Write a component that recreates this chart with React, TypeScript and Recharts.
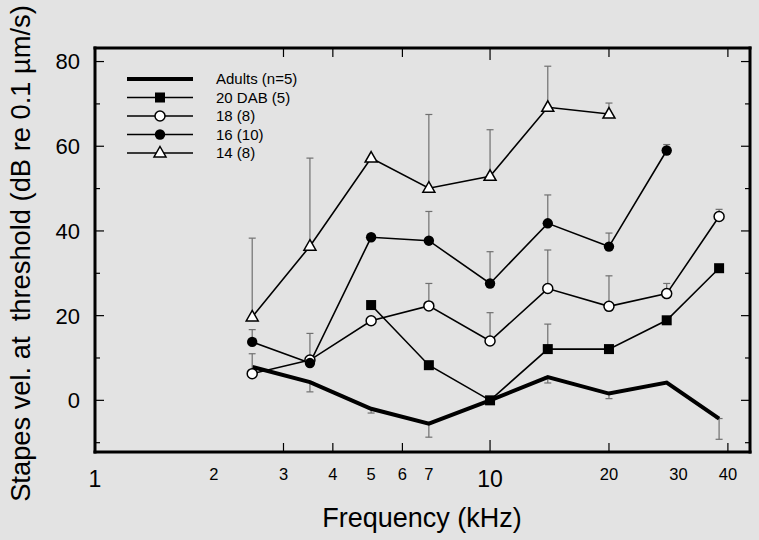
import { ComposedChart, Line, XAxis, YAxis, ErrorBar, Legend } from 'recharts';

// frequencies in kHz
const freqs = [2.5, 3.5, 5, 7, 10, 14, 20, 28, 38];

// mean thresholds (dB re 0.1 um/s)
const adults = [7.9, 4.3, -2.0, -5.5, 0, 5.5, 1.6, 4.2, -4.3];
const dab20 = [null, null, 22.5, 8.3, 0, 12.1, 12.1, 18.9, 31.2];
const dab18 = [6.3, 9.5, 18.8, 22.3, 14.0, 26.4, 22.2, 25.2, 43.4];
const dab16 = [13.8, 8.8, 38.5, 37.7, 27.6, 41.8, 36.3, 59.0, null];
const dab14 = [19.7, 36.4, 57.2, 50.1, 52.9, 69.2, 67.6, null, null];

// error bar ends (adults: lower end, others: upper end)
const adultsLow = [null, 2.0, -3.0, -8.7, null, 4.1, 0.4, null, -9.2];
const dab20High = [null, null, null, null, null, 18.0, null, null, null];
const dab18High = [11.0, 15.8, null, 27.6, 20.7, 35.5, 29.4, 27.6, 45.1];
const dab16High = [16.7, null, null, 44.6, 35.1, 48.5, 39.5, 60.4, null];
const dab14High = [38.3, 57.2, null, 67.5, 63.9, 78.9, 70.2, null, null];

const xTicks = [1, 2, 3, 4, 5, 6, 7, 10, 20, 30, 40];
const xTickMarks = [3, 4, 6, 10, 20, 40];
const yTicks = [-10, 0, 10, 20, 30, 40, 50, 60, 70, 80];
const yLabels = [0, 20, 40, 60, 80];

const legendNames = ['Adults (n=5)', '20 DAB (5)', '18 (8)', '16 (10)', '14 (8)'];
const legendShapes = ['none', 'square', 'open', 'filled', 'triangle'];

const FONT = '"Liberation Sans", Arial, sans-serif';

const up = (v: number | null, hi: number | null) =>
  v == null || hi == null ? null : [0, +(hi - v).toFixed(2)];
const down = (v: number | null, lo: number | null) =>
  v == null || lo == null ? null : [+(v - lo).toFixed(2), 0];

const rows = freqs.map((f, i) => ({
  f,
  adults: adults[i],
  adultsErr: down(adults[i], adultsLow[i]),
  dab20: dab20[i],
  dab20Err: up(dab20[i], dab20High[i]),
  dab18: dab18[i],
  dab18Err: up(dab18[i], dab18High[i]),
  dab16: dab16[i],
  dab16Err: up(dab16[i], dab16High[i]),
  dab14: dab14[i],
  dab14Err: up(dab14[i], dab14High[i]),
}));

function marker(kind: string, cx: number, cy: number, key?: string | number) {
  switch (kind) {
    case 'square':
      return <rect key={key} x={cx - 5} y={cy - 5} width={10} height={10} fill="#000" />;
    case 'open':
      return <circle key={key} cx={cx} cy={cy} r={5} fill="#fff" stroke="#000" strokeWidth={1.5} />;
    case 'filled':
      return <circle key={key} cx={cx} cy={cy} r={5.2} fill="#000" />;
    case 'triangle':
      return (
        <path
          key={key}
          d={`M${cx},${cy - 6.5} L${cx + 6},${cy + 4} L${cx - 6},${cy + 4} Z`}
          fill="#fff"
          stroke="#000"
          strokeWidth={1.5}
        />
      );
    default:
      return <g key={key} />;
  }
}

const dotFor = (kind: string) => (p: any) => {
  if (p.cx == null || p.cy == null || p.value == null) return <g key={p.index} />;
  return marker(kind, p.cx, p.cy, p.index);
};

const BottomTick = (props: any) => {
  const { x, y, payload } = props;
  const v = payload.value;
  const big = v === 1 || v === 10;
  return (
    <g>
      {xTickMarks.includes(v) && (
        <line x1={x} x2={x} y1={y} y2={y - (v === 10 ? 12 : 9)} stroke="#000" strokeWidth={1.2} />
      )}
      <text
        x={x}
        y={y + (big ? 35 : 28)}
        textAnchor="middle"
        fontSize={big ? 23 : 16.5}
        fontFamily={FONT}
        fill="#000"
      >
        {v}
      </text>
    </g>
  );
};

const TopTick = (props: any) => {
  const { x, y, payload } = props;
  const v = payload.value;
  if (!xTickMarks.includes(v)) return <g />;
  return <line x1={x} x2={x} y1={y} y2={y + (v === 10 ? 12 : 9)} stroke="#000" strokeWidth={1.2} />;
};

const LeftTick = (props: any) => {
  const { x, y, payload } = props;
  const v = payload.value;
  const major = yLabels.includes(v);
  return (
    <g>
      <line x1={x} x2={x + (major ? 9 : 5)} y1={y} y2={y} stroke="#000" strokeWidth={1.2} />
      {major && (
        <text x={x - 15} y={y} dy="0.36em" textAnchor="end" fontSize={22} fontFamily={FONT} fill="#000">
          {v}
        </text>
      )}
    </g>
  );
};

const RightTick = (props: any) => {
  const { x, y, payload } = props;
  const major = yLabels.includes(payload.value);
  return <line x1={x} x2={x - (major ? 9 : 5)} y1={y} y2={y} stroke="#000" strokeWidth={1.2} />;
};

const LegendBox = () => (
  <svg width={210} height={100}>
    {legendNames.map((name, i) => {
      const cy = 10 + i * 18.5;
      return (
        <g key={name}>
          <line x1={6} x2={72} y1={cy} y2={cy} stroke="#000" strokeWidth={i === 0 ? 4 : 1.6} />
          {marker(legendShapes[i], 39, cy)}
          <text x={95} y={cy} dy="0.36em" fontSize={15} fontFamily={FONT} fill="#000">
            {name}
          </text>
        </g>
      );
    })}
  </svg>
);

const axisLine = { stroke: '#000', strokeWidth: 3, strokeLinecap: 'square' as const };
const errStyle = { stroke: '#707070', strokeWidth: 1.2 };

export default function App() {
  return (
    <div
      style={{
        position: 'absolute',
        left: 0,
        top: 0,
        width: 759,
        height: 540,
        background: '#e3e3e3',
        fontFamily: FONT,
      }}
    >
      <ComposedChart width={759} height={540} data={rows} margin={{ top: 47, right: 8, bottom: 0, left: 0 }}>
        <XAxis
          dataKey="f"
          type="number"
          scale="log"
          domain={[1, 45.5]}
          allowDataOverflow
          ticks={xTicks}
          interval={0}
          tick={<BottomTick />}
          tickLine={false}
          tickSize={0}
          tickMargin={0}
          axisLine={axisLine}
          height={88}
          label={{
            content: () => (
              <text x={422} y={527} textAnchor="middle" fontSize={27} fontFamily={FONT} fill="#000">
                Frequency (kHz)
              </text>
            ),
          }}
        />
        <XAxis
          xAxisId="top"
          orientation="top"
          dataKey="f"
          type="number"
          scale="log"
          domain={[1, 45.5]}
          allowDataOverflow
          ticks={xTicks}
          interval={0}
          tick={<TopTick />}
          tickLine={false}
          tickSize={0}
          tickMargin={0}
          axisLine={axisLine}
          height={1}
        />
        <YAxis
          type="number"
          domain={[-12.2, 83.2]}
          allowDataOverflow
          ticks={yTicks}
          interval={0}
          tick={<LeftTick />}
          tickLine={false}
          tickSize={0}
          tickMargin={0}
          axisLine={axisLine}
          width={95}
          label={{
            content: () => (
              <text
                x={29.5}
                y={253.5}
                transform="rotate(-90 29.5 253.5)"
                textAnchor="middle"
                fontSize={27.3}
                fontFamily={FONT}
                fill="#000"
                style={{ whiteSpace: 'pre' }}
              >
                {'Stapes vel. at  threshold (dB re 0.1 \u00b5m/s)'}
              </text>
            ),
          }}
        />
        <YAxis
          yAxisId="right"
          orientation="right"
          type="number"
          domain={[-12.2, 83.2]}
          allowDataOverflow
          ticks={yTicks}
          interval={0}
          tick={<RightTick />}
          tickLine={false}
          tickSize={0}
          tickMargin={0}
          axisLine={axisLine}
          width={1}
        />
        <Legend
          layout="vertical"
          align="center"
          verticalAlign="middle"
          content={() => <LegendBox />}
          wrapperStyle={{ left: 121, top: 69, width: 210, height: 100 }}
        />
        <Line
          dataKey="adults"
          stroke="#000"
          strokeWidth={4}
          dot={false}
          activeDot={false}
          isAnimationActive={false}
          strokeLinejoin="miter"
        >
          <ErrorBar dataKey="adultsErr" direction="y" width={3.5} {...errStyle} />
        </Line>
        <Line
          dataKey="dab20"
          stroke="#000"
          strokeWidth={1.6}
          dot={dotFor('square')}
          activeDot={false}
          isAnimationActive={false}
        >
          <ErrorBar dataKey="dab20Err" direction="y" width={3.5} {...errStyle} />
        </Line>
        <Line
          dataKey="dab18"
          stroke="#000"
          strokeWidth={1.6}
          dot={dotFor('open')}
          activeDot={false}
          isAnimationActive={false}
        >
          <ErrorBar dataKey="dab18Err" direction="y" width={3.5} {...errStyle} />
        </Line>
        <Line
          dataKey="dab16"
          stroke="#000"
          strokeWidth={1.6}
          dot={dotFor('filled')}
          activeDot={false}
          isAnimationActive={false}
        >
          <ErrorBar dataKey="dab16Err" direction="y" width={3.5} {...errStyle} />
        </Line>
        <Line
          dataKey="dab14"
          stroke="#000"
          strokeWidth={1.6}
          dot={dotFor('triangle')}
          activeDot={false}
          isAnimationActive={false}
        >
          <ErrorBar dataKey="dab14Err" direction="y" width={3.5} {...errStyle} />
        </Line>
      </ComposedChart>
    </div>
  );
}
